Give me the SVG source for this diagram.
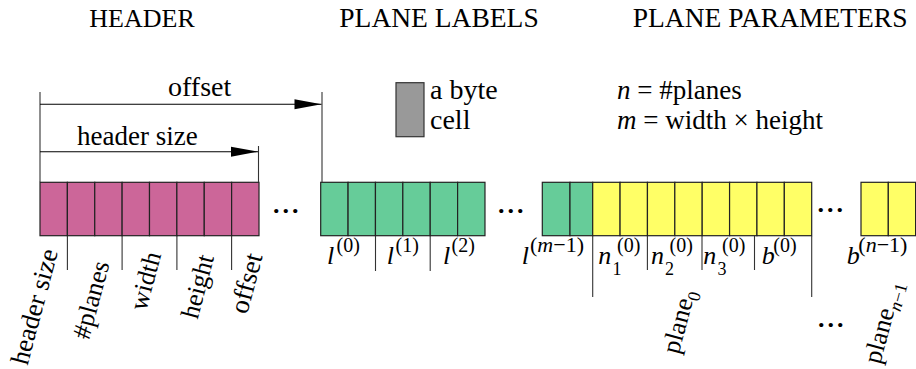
<svg xmlns="http://www.w3.org/2000/svg" width="916" height="369" viewBox="0 0 916 369">
<style>
.dgMain{font-family:'Liberation Serif',serif;font-size:26px;fill:#000}
.dgSup{font-family:'Liberation Serif',serif;font-size:20px;fill:#000}
.dgSub{font-family:'Liberation Serif',serif;font-size:18px;fill:#000}
.dgIt{font-style:italic}
.dgDots{font-family:'Liberation Serif',serif;font-size:26px;font-weight:bold;letter-spacing:3px;fill:#000}
.dgPink{fill:#CC6699;stroke:#222;stroke-width:1.2}
.dgGreen{fill:#66CC99;stroke:#222;stroke-width:1.2}
.dgYellow{fill:#FFFF66;stroke:#222;stroke-width:1.2}
.dgLine{stroke:#333;stroke-width:1.1;fill:none}
.dgArrow{stroke:#000;stroke-width:1.1;fill:none;marker-end:url(#dgHead)}
</style>
<defs>
<marker id="dgHead" markerUnits="userSpaceOnUse" markerWidth="30" markerHeight="12" viewBox="-28 -6 30 12" refX="0" refY="0" orient="auto">
<path d="M0,0 L-27,-5 L-27,5 Z" fill="#000"/>
</marker>
</defs>

<g id="titles">
<text class="dgMain" x="89.3" y="26.7">HEADER</text>
<text class="dgMain" x="339.3" y="26.7" style="font-size:27.5px">PLANE LABELS</text>
<text class="dgMain" x="632.7" y="26.7" style="font-size:27.5px">PLANE PARAMETERS</text>
</g>

<g id="legend">
<rect x="396" y="82.7" width="28" height="54" fill="#999999" stroke="#333" stroke-width="1.2"/>
<text class="dgMain" x="430" y="99" style="font-size:28px">a byte</text>
<text class="dgMain" x="430" y="129" style="font-size:28px">cell</text>
<text class="dgMain" x="617" y="99" style="font-size:27px"><tspan class="dgIt">n</tspan> = #planes</text>
<text class="dgMain" x="617" y="129" style="font-size:27px"><tspan class="dgIt">m</tspan> = width &#215; height</text>
</g>

<g id="header-cells">
<rect class="dgPink" x="40" y="182.3" width="27.375" height="53.4"/>
<rect class="dgPink" x="67.375" y="182.3" width="27.375" height="53.4"/>
<rect class="dgPink" x="94.75" y="182.3" width="27.375" height="53.4"/>
<rect class="dgPink" x="122.125" y="182.3" width="27.375" height="53.4"/>
<rect class="dgPink" x="149.5" y="182.3" width="27.375" height="53.4"/>
<rect class="dgPink" x="176.875" y="182.3" width="27.375" height="53.4"/>
<rect class="dgPink" x="204.25" y="182.3" width="27.375" height="53.4"/>
<rect class="dgPink" x="231.625" y="182.3" width="27.375" height="53.4"/>
</g>

<g id="label-cells">
<rect class="dgGreen" x="320.7" y="182.3" width="27.38" height="53.4"/>
<rect class="dgGreen" x="348.08" y="182.3" width="27.38" height="53.4"/>
<rect class="dgGreen" x="375.46" y="182.3" width="27.38" height="53.4"/>
<rect class="dgGreen" x="402.84" y="182.3" width="27.38" height="53.4"/>
<rect class="dgGreen" x="430.22" y="182.3" width="27.38" height="53.4"/>
<rect class="dgGreen" x="457.6" y="182.3" width="27.38" height="53.4"/>
<rect class="dgGreen" x="542.3" y="182.3" width="27.7" height="53.4"/>
<rect class="dgGreen" x="570" y="182.3" width="22.7" height="53.4"/>
</g>

<g id="param-cells">
<rect class="dgYellow" x="592.7" y="182.3" width="27.375" height="53.4"/>
<rect class="dgYellow" x="620.075" y="182.3" width="27.375" height="53.4"/>
<rect class="dgYellow" x="647.45" y="182.3" width="27.375" height="53.4"/>
<rect class="dgYellow" x="674.825" y="182.3" width="27.375" height="53.4"/>
<rect class="dgYellow" x="702.2" y="182.3" width="27.375" height="53.4"/>
<rect class="dgYellow" x="729.575" y="182.3" width="27.375" height="53.4"/>
<rect class="dgYellow" x="756.95" y="182.3" width="27.375" height="53.4"/>
<rect class="dgYellow" x="784.325" y="182.3" width="27.375" height="53.4"/>
<rect class="dgYellow" x="861" y="182.3" width="27.3" height="53.4"/>
<rect class="dgYellow" x="888.3" y="182.3" width="27.3" height="53.4"/>
</g>

<g id="connectors">
<line class="dgLine" x1="40" y1="92" x2="40" y2="182"/>
<line class="dgLine" x1="322" y1="92" x2="322" y2="182"/>
<line class="dgLine" x1="258.5" y1="146" x2="258.5" y2="182"/>
<line class="dgArrow" x1="40" y1="104.3" x2="321.5" y2="104.3"/>
<line class="dgArrow" x1="40" y1="151.7" x2="258" y2="151.7"/>
<line class="dgLine" x1="67.4" y1="236" x2="67.4" y2="270"/>
<line class="dgLine" x1="122.1" y1="236" x2="122.1" y2="270"/>
<line class="dgLine" x1="176.9" y1="236" x2="176.9" y2="270"/>
<line class="dgLine" x1="231.6" y1="236" x2="231.6" y2="270"/>
<line class="dgLine" x1="375.5" y1="236" x2="375.5" y2="271"/>
<line class="dgLine" x1="430.2" y1="236" x2="430.2" y2="271"/>
<line class="dgLine" x1="592.7" y1="236" x2="592.7" y2="297"/>
<line class="dgLine" x1="647.4" y1="236" x2="647.4" y2="270"/>
<line class="dgLine" x1="702" y1="236" x2="702" y2="270"/>
<line class="dgLine" x1="754.5" y1="236" x2="754.5" y2="270"/>
<line class="dgLine" x1="811.7" y1="236" x2="811.7" y2="297"/>
</g>

<g id="dimension-labels">
<text class="dgMain" x="168" y="96" style="font-size:28px">offset</text>
<text class="dgMain" x="77" y="145" style="font-size:27px">header size</text>
</g>

<g id="ellipses">
<text class="dgDots" x="273.1" y="213">...</text>
<text class="dgDots" x="498.1" y="213">...</text>
<text class="dgDots" x="817.6" y="212">...</text>
<text class="dgDots" x="818" y="327">...</text>
</g>

<g id="header-labels">
<text class="dgMain" transform="translate(27.4,366) rotate(-75)" style="font-size:26.5px">header size</text>
<text class="dgMain" transform="translate(89,340.4) rotate(-75)">#planes</text>
<text class="dgMain" transform="translate(146,311.7) rotate(-75)">width</text>
<text class="dgMain" transform="translate(197.4,320) rotate(-75)">height</text>
<text class="dgMain" transform="translate(247,315) rotate(-75)" style="font-size:27px">offset</text>
</g>

<g id="plane-label-names">
<text class="dgMain dgIt" x="327" y="264">l</text><text class="dgSup" x="336.5" y="252">(0)</text>
<text class="dgMain dgIt" x="386.7" y="264">l</text><text class="dgSup" x="395.5" y="252">(1)</text>
<text class="dgMain dgIt" x="443" y="264">l</text><text class="dgSup" x="451.5" y="252">(2)</text>
<text class="dgMain dgIt" x="521.7" y="264">l</text><text class="dgSup" x="530" y="252" style="font-size:22px">(<tspan class="dgIt">m</tspan>&#8722;1)</text>
</g>

<g id="plane-param-names">
<text class="dgMain dgIt" x="598.3" y="264">n</text><text class="dgSub" x="612.5" y="275">1</text><text class="dgSup" x="617" y="251.5">(0)</text>
<text class="dgMain dgIt" x="651" y="264">n</text><text class="dgSub" x="665" y="275">2</text><text class="dgSup" x="669.5" y="251.5">(0)</text>
<text class="dgMain dgIt" x="703.3" y="264">n</text><text class="dgSub" x="717.5" y="275">3</text><text class="dgSup" x="722" y="251.5">(0)</text>
<text class="dgMain dgIt" x="761.7" y="264">b</text><text class="dgSup" x="773.3" y="251.5">(0)</text>
<text class="dgMain dgIt" x="846.7" y="264">b</text><text class="dgSup" x="858.3" y="251.5" style="font-size:22px">(<tspan class="dgIt">n</tspan>&#8722;1)</text>
</g>

<g id="plane-names">
<text class="dgMain" transform="translate(678.5,355) rotate(-75)">plane<tspan class="dgSub" dy="6">0</tspan></text>
<text class="dgMain" transform="translate(880,365) rotate(-75)">plane<tspan class="dgSub" dy="6"><tspan class="dgIt">n</tspan>&#8722;1</tspan></text>
</g>
</svg>
